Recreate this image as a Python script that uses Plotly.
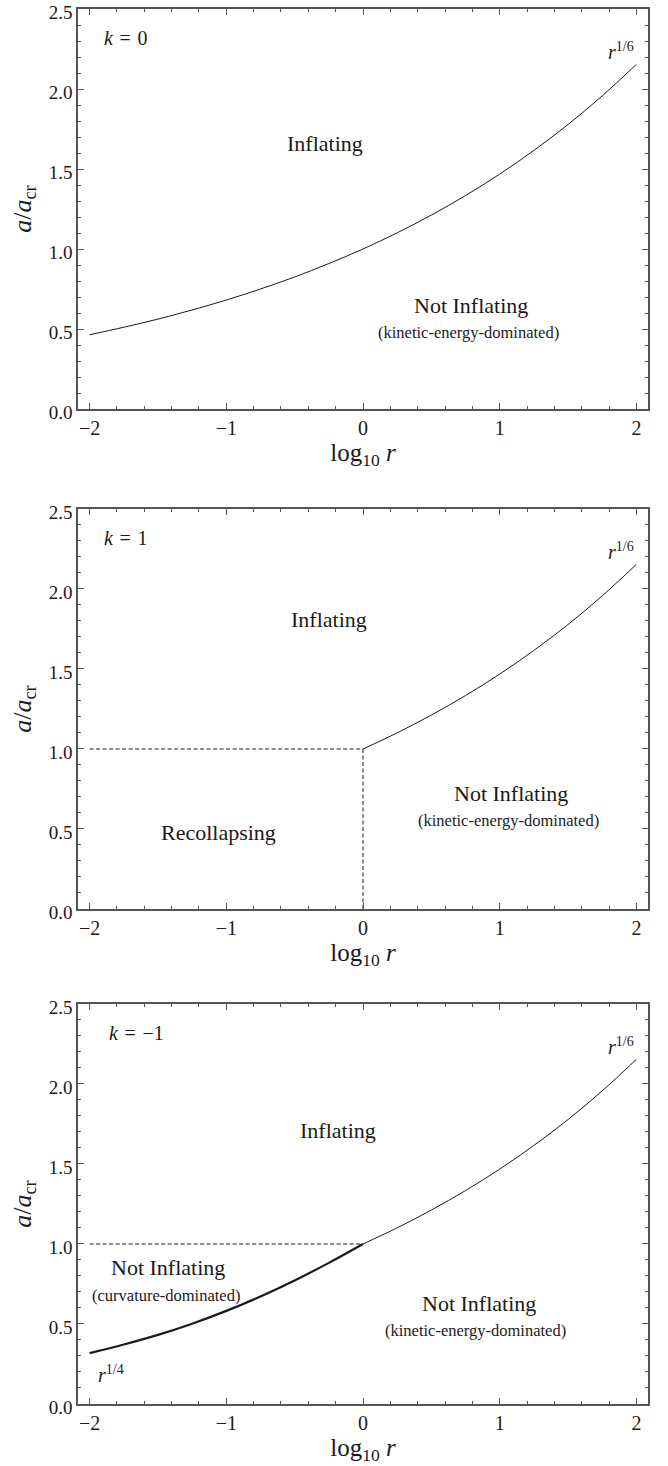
import plotly.graph_objects as go
from plotly.subplots import make_subplots

# ---- data ----
log_r = [-2, -1.75, -1.5, -1.25, -1, -0.75, -0.5, -0.25, 0,
         0.25, 0.5, 0.75, 1, 1.25, 1.5, 1.75, 2]
# k = 0 boundary (r^{1/6})
a_k0 = [0.464, 0.511, 0.562, 0.619, 0.681, 0.750, 0.825, 0.909, 1.000,
        1.101, 1.212, 1.334, 1.468, 1.616, 1.778, 1.957, 2.154]

# k = 1 boundary (solid part, log r >= 0)
log_r_pos = [0, 0.25, 0.5, 0.75, 1, 1.25, 1.5, 1.75, 2]
a_k1 = [1.000, 1.101, 1.212, 1.334, 1.468, 1.616, 1.778, 1.957, 2.154]
k1_dash_h_x = [-2, 0]
k1_dash_h_y = [1.0, 1.0]
k1_dash_v_x = [0, 0]
k1_dash_v_y = [0.0, 1.0]

# k = -1 boundary
log_r_neg = [-2, -1.75, -1.5, -1.25, -1, -0.75, -0.5, -0.25, 0]
a_km1_curv = [0.318, 0.372, 0.432, 0.502, 0.582, 0.672, 0.772, 0.882, 1.000]
a_km1_kin = [1.000, 1.101, 1.212, 1.334, 1.468, 1.616, 1.778, 1.957, 2.154]
km1_dash_x = [-2, 0]
km1_dash_y = [1.0, 1.0]

x_ticks = [-2, -1, 0, 1, 2]
x_ticktext = ["\u22122", "\u22121", "0", "1", "2"]
y_ticks = [0, 0.5, 1.0, 1.5, 2.0, 2.5]
y_ticktext = ["0.0", "0.5", "1.0", "1.5", "2.0", "2.5"]

FONT = "Liberation Serif"
INK = "#1a1a1a"
FRAME = "#555555"
DASH = "4px,2.5px"

fig = make_subplots(rows=3, cols=1)

# panel 1
fig.add_trace(go.Scatter(x=log_r, y=a_k0, mode="lines", line_shape="spline",
                         line=dict(color=INK, width=1)), row=1, col=1)
# panel 2
fig.add_trace(go.Scatter(x=log_r_pos, y=a_k1, mode="lines", line_shape="spline",
                         line=dict(color=INK, width=1)), row=2, col=1)
fig.add_trace(go.Scatter(x=k1_dash_h_x, y=k1_dash_h_y, mode="lines",
                         line=dict(color=INK, width=1, dash=DASH)), row=2, col=1)
fig.add_trace(go.Scatter(x=k1_dash_v_x, y=k1_dash_v_y, mode="lines",
                         line=dict(color=INK, width=1, dash=DASH)), row=2, col=1)
# panel 3
fig.add_trace(go.Scatter(x=km1_dash_x, y=km1_dash_y, mode="lines",
                         line=dict(color=INK, width=1, dash=DASH)), row=3, col=1)
fig.add_trace(go.Scatter(x=log_r_pos, y=a_km1_kin, mode="lines", line_shape="spline",
                         line=dict(color=INK, width=1)), row=3, col=1)
fig.add_trace(go.Scatter(x=log_r_neg, y=a_km1_curv, mode="lines", line_shape="spline",
                         line=dict(color=INK, width=2.2)), row=3, col=1)

domains = [[0.71326, 1.0], [0.35484, 0.64158], [0.0, 0.28674]]

for i in range(3):
    xa = "xaxis" if i == 0 else f"xaxis{i+1}"
    ya = "yaxis" if i == 0 else f"yaxis{i+1}"
    fig.layout[xa].update(
        domain=[0, 1], range=[-2.085, 2.085], automargin=False,
        ticklabeloverflow="allow",
        tickvals=x_ticks, ticktext=x_ticktext,
        ticks="inside", ticklen=6, tickwidth=1, tickcolor=FRAME,
        minor=dict(ticks="inside", dtick=0.2, tick0=0, ticklen=3,
                   tickwidth=1, tickcolor=FRAME, showgrid=False),
        showline=True, linecolor=FRAME, linewidth=1.5, mirror="ticks",
        showgrid=False, zeroline=False,
        tickfont=dict(family=FONT, size=20, color=INK),
        title=dict(text="log<sub>10</sub> <i>r</i>",
                   font=dict(family=FONT, size=25, color=INK), standoff=0),
    )
    fig.layout[ya].update(
        domain=domains[i], range=[0, 2.5], automargin=False,
        ticklabeloverflow="allow", ticklabelshift=3,
        tickvals=y_ticks, ticktext=y_ticktext,
        ticks="inside", ticklen=6, tickwidth=1, tickcolor=FRAME,
        minor=dict(ticks="inside", dtick=0.1, tick0=0, ticklen=3,
                   tickwidth=1, tickcolor=FRAME, showgrid=False),
        showline=True, linecolor=FRAME, linewidth=1.5, mirror="ticks",
        showgrid=False, zeroline=False,
        tickfont=dict(family=FONT, size=19, color=INK),
        title=dict(text="<i>a</i>/<i>a</i><sub>cr</sub>",
                   font=dict(family=FONT, size=26, color=INK), standoff=10),
    )

def label(panel, x, y, text, size, xanchor="center"):
    xr = "x" if panel == 1 else f"x{panel}"
    yr = "y" if panel == 1 else f"y{panel}"
    fig.add_annotation(x=x, y=y, xref=xr, yref=yr, text=text, showarrow=False,
                       xanchor=xanchor, yanchor="middle",
                       font=dict(family=FONT, size=size, color=INK))

R16 = "<i>r</i><sup>1/6</sup>"
EQ = "\u200a = \u200a"
# panel 1
label(1, -1.91, 2.32, "<i>k</i>" + EQ + "0", 20, "left")
label(1, 1.887, 2.24, R16, 20)
label(1, -0.28, 1.66, "Inflating", 22)
label(1, 0.79, 0.65, "Not Inflating", 22)
label(1, 0.77, 0.48, "(kinetic-energy-dominated)", 16.5)
# panel 2
label(2, -1.91, 2.32, "<i>k</i>" + EQ + "1", 20, "left")
label(2, 1.887, 2.24, R16, 20)
label(2, -0.25, 1.81, "Inflating", 22)
label(2, -1.06, 0.48, "Recollapsing", 22)
label(2, 1.086, 0.72, "Not Inflating", 22)
label(2, 1.068, 0.556, "(kinetic-energy-dominated)", 16.5)
# panel 3
label(3, -1.873, 2.32, "<i>k</i>" + EQ + "\u22121", 20, "left")
label(3, 1.887, 2.24, R16, 20)
label(3, -0.18, 1.71, "Inflating", 22)
label(3, -1.423, 0.85, "Not Inflating", 22)
label(3, -1.438, 0.675, "(curvature-dominated)", 16.5)
label(3, -1.84, 0.19, "<i>r</i><sup>1/4</sup>", 20)
label(3, 0.848, 0.63, "Not Inflating", 22)
label(3, 0.82, 0.46, "(kinetic-energy-dominated)", 16.5)

fig.update_layout(
    width=668, height=1466,
    margin=dict(l=78, r=20, t=9, b=62, autoexpand=False),
    showlegend=False,
    plot_bgcolor="white", paper_bgcolor="white",
    font=dict(family=FONT, color=INK),
)

fig.write_html("out.html")
